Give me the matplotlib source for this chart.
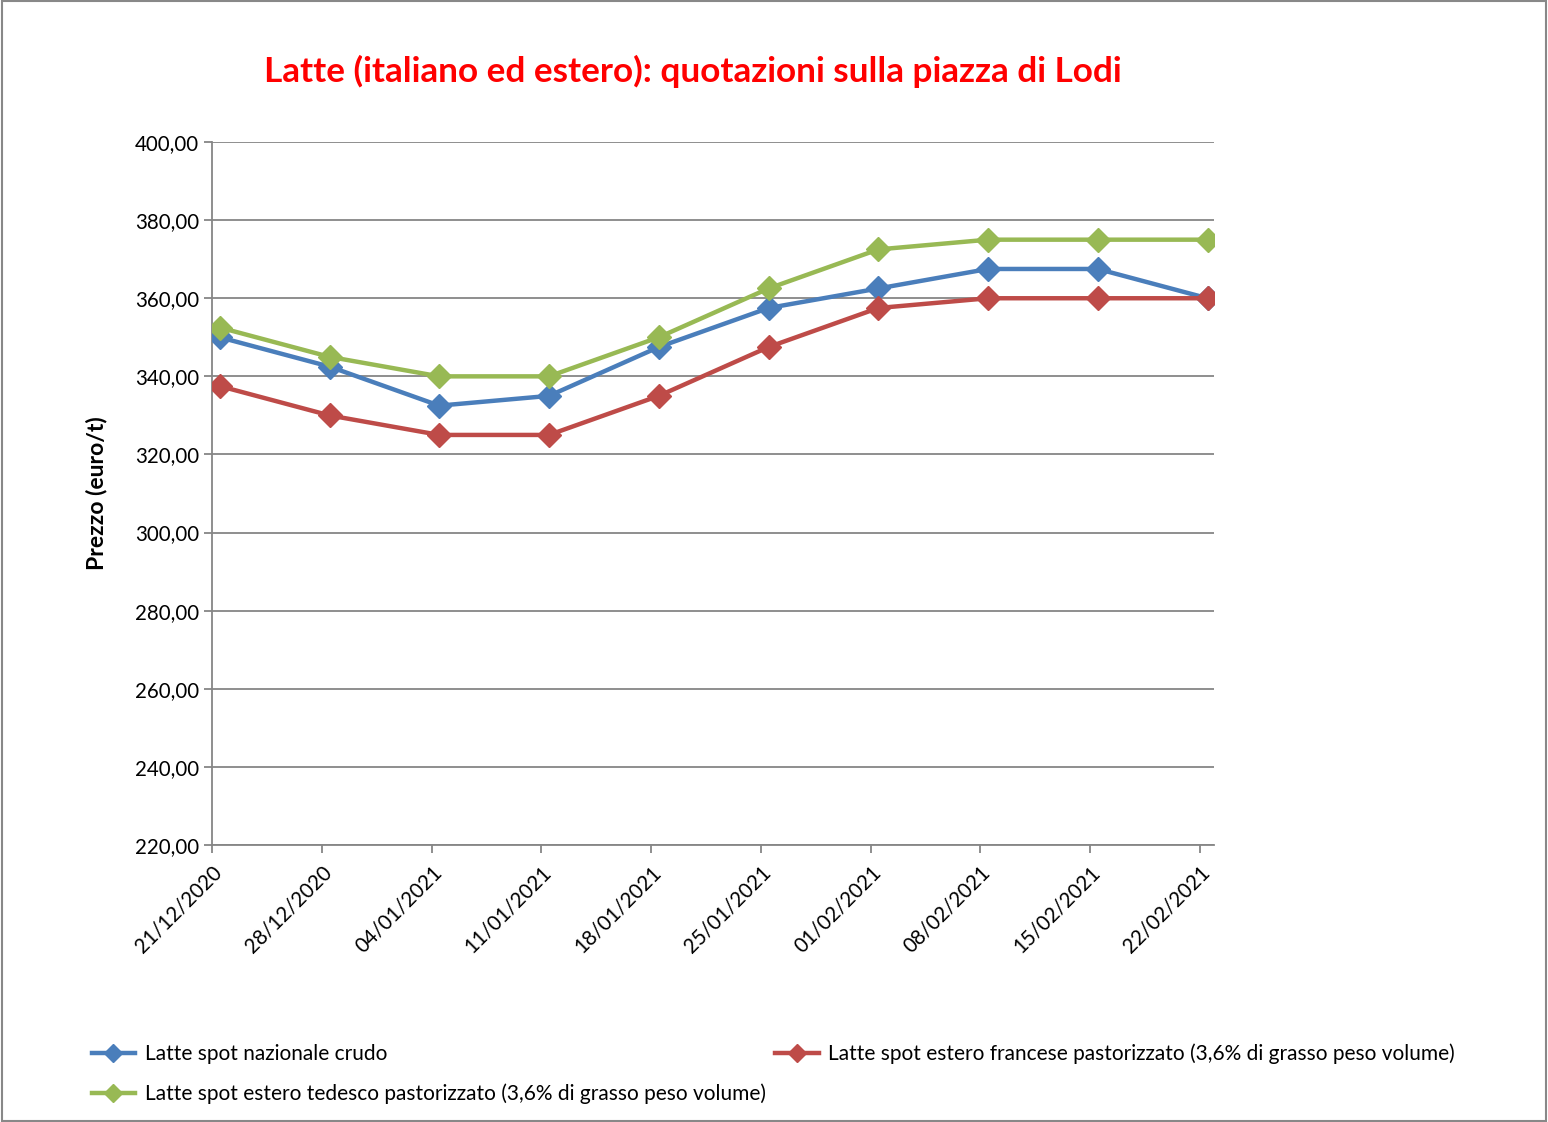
import numpy as np
import matplotlib
matplotlib.use("Agg")
import matplotlib.pyplot as plt
from matplotlib.patches import Rectangle
from matplotlib.ticker import FuncFormatter
from matplotlib.transforms import ScaledTranslation

# Quotazioni settimanali (euro/t)
date_labels = ["21/12/2020", "28/12/2020", "04/01/2021", "11/01/2021", "18/01/2021",
               "25/01/2021", "01/02/2021", "08/02/2021", "15/02/2021", "22/02/2021"]
nazionale_crudo = [350.0, 342.5, 332.5, 335.0, 347.5, 357.5, 362.5, 367.5, 367.5, 360.0]
francese_past = [337.5, 330.0, 325.0, 325.0, 335.0, 347.5, 357.5, 360.0, 360.0, 360.0]
tedesco_past = [352.5, 345.0, 340.0, 340.0, 350.0, 362.5, 372.5, 375.0, 375.0, 375.0]

series_names = ["Latte spot nazionale crudo",
                "Latte spot estero francese pastorizzato (3,6% di grasso peso volume)",
                "Latte spot estero tedesco pastorizzato (3,6% di grasso peso volume)"]

BLUE = "#4A7EBB"
RED = "#BE4B48"
GREEN = "#98B954"
GRID = "#868686"

plt.rcParams['font.family'] = ['Lato', 'DejaVu Sans']

fig = plt.figure(figsize=(15.48, 11.22), dpi=100, facecolor='white')
ax = fig.add_axes([0.137, 0.2469, 0.6473, 0.6265])

x = np.arange(len(date_labels))
xp = x + 0.07  # excel draws the markers a bit right of the ticks

l1, = ax.plot(xp, nazionale_crudo, color=BLUE, lw=3.2, marker='D', ms=12, zorder=3)
l2, = ax.plot(xp, francese_past, color=RED, lw=3.2, marker='D', ms=12, zorder=3)
l3, = ax.plot(xp, tedesco_past, color=GREEN, lw=3.2, marker='D', ms=12, zorder=4)

ax.set_ylim(220, 400)
ax.set_xlim(0, 9.13)
ax.set_yticks(np.arange(220, 401, 20))
ax.yaxis.set_major_formatter(FuncFormatter(lambda v, p: f"{v:.2f}".replace('.', ',')))
ax.grid(axis='y', color=GRID, lw=1.3)
ax.set_axisbelow(True)

ax.set_xticks(x)
ax.set_xticklabels(date_labels, rotation=45, ha='right', va='top', rotation_mode='anchor')
shift = ScaledTranslation(10 / 100, -6 / 100, fig.dpi_scale_trans)
for lab in ax.get_xticklabels():
    lab.set_transform(lab.get_transform() + shift)

for s in ['top', 'right']:
    ax.spines[s].set_visible(False)
for s in ['left', 'bottom']:
    ax.spines[s].set_color(GRID)
    ax.spines[s].set_linewidth(1.3)
ax.tick_params(axis='both', colors=GRID, labelcolor='black', labelsize=14.8,
               length=6, width=1.3)
ax.tick_params(axis='x', pad=6)

ax.set_ylabel("Prezzo (euro/t)", fontsize=16.5, fontweight='bold', labelpad=20)

fig.text(0.4473, 0.936, "Latte (italiano ed estero): quotazioni sulla piazza di Lodi",
         ha='center', va='center', color='#FF0000', fontsize=25.3, fontweight='bold')

fig.legend([l1, l3, l2], [series_names[0], series_names[2], series_names[1]],
           loc='lower left', bbox_to_anchor=(0.047, -0.001), ncol=2, frameon=False,
           fontsize=15.0, handlelength=2.1, columnspacing=0.45, labelspacing=0.95,
           handletextpad=0.45, markerscale=0.75)

fig.patches.append(Rectangle((0.001, 0.001), 0.998, 0.998, transform=fig.transFigure,
                             fill=False, edgecolor='#888888', lw=1.5))

fig.savefig("out.png", dpi=100, facecolor='white')
